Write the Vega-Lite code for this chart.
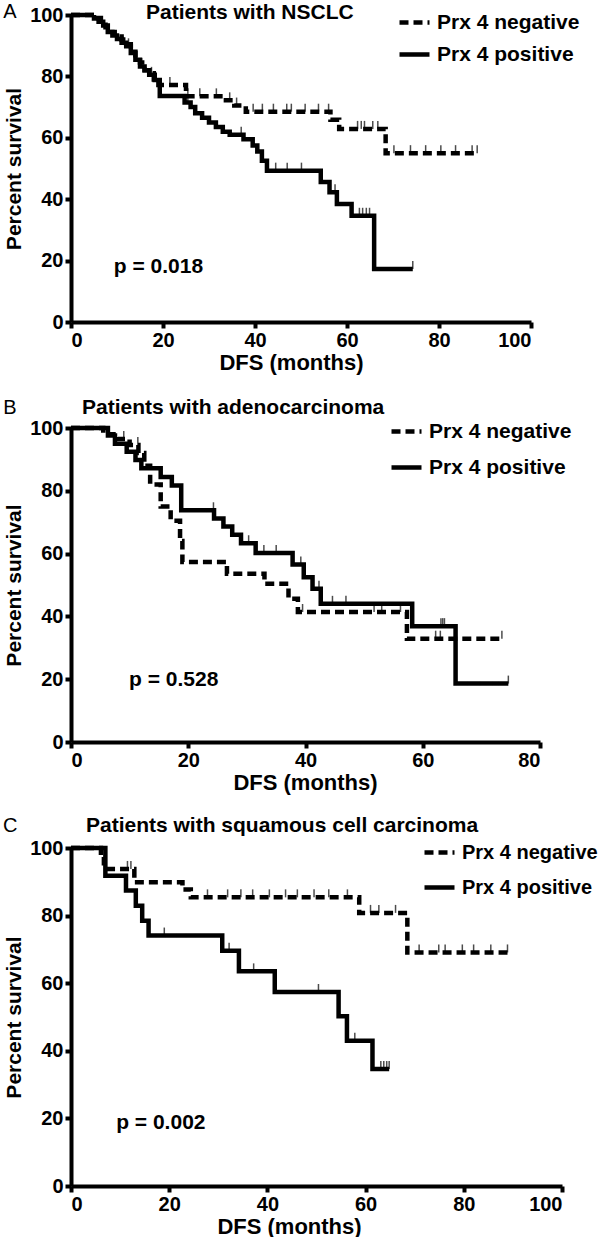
{
  "$schema": "https://vega.github.io/schema/vega-lite/v6.json",
  "padding": {"left": 2, "top": 1, "right": 0, "bottom": 0},
  "background": "white",
  "bounds": "flush",
  "spacing": 106,
  "datasets": {
    "curveA": [
      {"group":"Prx 4 negative","t":0,"s":100},{"group":"Prx 4 negative","t":5,"s":99},{"group":"Prx 4 negative","t":6.5,"s":97.8},{"group":"Prx 4 negative","t":7.5,"s":96},{"group":"Prx 4 negative","t":8.5,"s":94.5},{"group":"Prx 4 negative","t":9.5,"s":93},{"group":"Prx 4 negative","t":11,"s":92},{"group":"Prx 4 negative","t":12,"s":90.5},{"group":"Prx 4 negative","t":13,"s":88},{"group":"Prx 4 negative","t":14,"s":86},{"group":"Prx 4 negative","t":15,"s":84.5},{"group":"Prx 4 negative","t":16,"s":82},{"group":"Prx 4 negative","t":17,"s":81},{"group":"Prx 4 negative","t":18,"s":79},{"group":"Prx 4 negative","t":19,"s":77.2},{"group":"Prx 4 negative","t":25,"s":73.5},{"group":"Prx 4 negative","t":33,"s":72.2},{"group":"Prx 4 negative","t":35.5,"s":70.5},{"group":"Prx 4 negative","t":38,"s":68.5},{"group":"Prx 4 negative","t":56.4,"s":65.9},{"group":"Prx 4 negative","t":58.3,"s":62.9},{"group":"Prx 4 negative","t":68.4,"s":55},{"group":"Prx 4 negative","t":88.3,"s":55},
      {"group":"Prx 4 positive","t":0,"s":100},{"group":"Prx 4 positive","t":5,"s":98.9},{"group":"Prx 4 positive","t":6,"s":97.8},{"group":"Prx 4 positive","t":7,"s":96.6},{"group":"Prx 4 positive","t":8,"s":94.5},{"group":"Prx 4 positive","t":9,"s":93.3},{"group":"Prx 4 positive","t":10,"s":92.2},{"group":"Prx 4 positive","t":11,"s":91},{"group":"Prx 4 positive","t":12,"s":89.8},{"group":"Prx 4 positive","t":13,"s":87.6},{"group":"Prx 4 positive","t":14,"s":85.4},{"group":"Prx 4 positive","t":15,"s":83.2},{"group":"Prx 4 positive","t":16,"s":82},{"group":"Prx 4 positive","t":17,"s":80.5},{"group":"Prx 4 positive","t":18.2,"s":78.8},{"group":"Prx 4 positive","t":19.3,"s":73.6},{"group":"Prx 4 positive","t":24.7,"s":71.5},{"group":"Prx 4 positive","t":26,"s":70},{"group":"Prx 4 positive","t":27,"s":68},{"group":"Prx 4 positive","t":28.5,"s":66.5},{"group":"Prx 4 positive","t":30,"s":65},{"group":"Prx 4 positive","t":31.5,"s":63.5},{"group":"Prx 4 positive","t":33,"s":62},{"group":"Prx 4 positive","t":34.5,"s":61},{"group":"Prx 4 positive","t":37.5,"s":59.5},{"group":"Prx 4 positive","t":39.5,"s":57.5},{"group":"Prx 4 positive","t":40.5,"s":55.5},{"group":"Prx 4 positive","t":41.5,"s":52.5},{"group":"Prx 4 positive","t":42.6,"s":49.3},{"group":"Prx 4 positive","t":54.3,"s":45.6},{"group":"Prx 4 positive","t":56.2,"s":42.3},{"group":"Prx 4 positive","t":57.8,"s":38.4},{"group":"Prx 4 positive","t":61,"s":34.6},{"group":"Prx 4 positive","t":65.9,"s":17.3},{"group":"Prx 4 positive","t":74.3,"s":17.3}
    ],
    "censA": [
      {"t":21.5,"s":77.2},{"t":25.4,"s":73.5},{"t":28,"s":73.5},{"t":31.6,"s":73.5},{"t":34.5,"s":72.2},{"t":36,"s":70.5},{"t":39.6,"s":68.5},{"t":41.6,"s":68.5},{"t":44,"s":68.5},{"t":46.9,"s":68.5},{"t":47.9,"s":68.5},{"t":50.9,"s":68.5},{"t":53.8,"s":68.5},{"t":56,"s":68.5},{"t":62.3,"s":62.9},{"t":63.1,"s":62.9},{"t":63.8,"s":62.9},{"t":65.6,"s":62.9},{"t":66.7,"s":62.9},{"t":70.2,"s":55},{"t":73.8,"s":55},{"t":77.1,"s":55},{"t":80.4,"s":55},{"t":83.6,"s":55},{"t":87.2,"s":55},{"t":88.3,"s":55},
      {"t":8,"s":94.5},{"t":12.5,"s":89.8},{"t":17.5,"s":80.5},{"t":25.4,"s":71.5},{"t":37,"s":61},{"t":44.5,"s":49.3},{"t":47,"s":49.3},{"t":50.1,"s":49.3},{"t":57.4,"s":42.3},{"t":62.7,"s":34.6},{"t":63.4,"s":34.6},{"t":64.2,"s":34.6},{"t":64.9,"s":34.6},{"t":74.3,"s":17.3}
    ],
    "curveB": [
      {"group":"Prx 4 negative","t":0,"s":100},{"group":"Prx 4 negative","t":5.5,"s":98},{"group":"Prx 4 negative","t":8,"s":96.5},{"group":"Prx 4 negative","t":10,"s":94.6},{"group":"Prx 4 negative","t":11.5,"s":92},{"group":"Prx 4 negative","t":12.5,"s":88},{"group":"Prx 4 negative","t":13.5,"s":82},{"group":"Prx 4 negative","t":15.3,"s":75},{"group":"Prx 4 negative","t":17,"s":70.5},{"group":"Prx 4 negative","t":18.6,"s":64},{"group":"Prx 4 negative","t":19,"s":57.3},{"group":"Prx 4 negative","t":26.6,"s":53.6},{"group":"Prx 4 negative","t":33,"s":50.4},{"group":"Prx 4 negative","t":37.1,"s":45.6},{"group":"Prx 4 negative","t":38.7,"s":41.4},{"group":"Prx 4 negative","t":57.3,"s":32.9},{"group":"Prx 4 negative","t":73.5,"s":32.9},
      {"group":"Prx 4 positive","t":0,"s":100},{"group":"Prx 4 positive","t":6.3,"s":97.6},{"group":"Prx 4 positive","t":7.5,"s":95},{"group":"Prx 4 positive","t":9.5,"s":92.4},{"group":"Prx 4 positive","t":11,"s":89.8},{"group":"Prx 4 positive","t":12,"s":87.2},{"group":"Prx 4 positive","t":15.3,"s":84.4},{"group":"Prx 4 positive","t":17.2,"s":81.7},{"group":"Prx 4 positive","t":18.8,"s":73.8},{"group":"Prx 4 positive","t":24.4,"s":71.2},{"group":"Prx 4 positive","t":26,"s":68.6},{"group":"Prx 4 positive","t":27.5,"s":66},{"group":"Prx 4 positive","t":29,"s":63.3},{"group":"Prx 4 positive","t":31.5,"s":60.2},{"group":"Prx 4 positive","t":37.8,"s":56.5},{"group":"Prx 4 positive","t":39.7,"s":52.5},{"group":"Prx 4 positive","t":41.2,"s":48.8},{"group":"Prx 4 positive","t":42.6,"s":44},{"group":"Prx 4 positive","t":58.2,"s":36.9},{"group":"Prx 4 positive","t":65.6,"s":18.6},{"group":"Prx 4 positive","t":74.6,"s":18.6}
    ],
    "censB": [
      {"t":9,"s":96.5},{"t":11.4,"s":94.6},{"t":39.5,"s":41.4},{"t":51.7,"s":41.4},{"t":53,"s":41.4},{"t":56.2,"s":41.4},{"t":62.2,"s":32.9},{"t":63,"s":32.9},{"t":73.5,"s":32.9},
      {"t":24.3,"s":73.8},{"t":30.3,"s":63.3},{"t":32.9,"s":60.2},{"t":35,"s":60.2},{"t":39.2,"s":56.5},{"t":42.3,"s":48.8},{"t":44.6,"s":44},{"t":46.9,"s":44},{"t":63.1,"s":36.9},{"t":63.4,"s":36.9},{"t":63.7,"s":36.9},{"t":74.6,"s":18.6}
    ],
    "curveC": [
      {"group":"Prx 4 negative","t":0,"s":100},{"group":"Prx 4 negative","t":6.1,"s":97.5},{"group":"Prx 4 negative","t":6.7,"s":95.5},{"group":"Prx 4 negative","t":7.3,"s":93.8},{"group":"Prx 4 negative","t":12.9,"s":89.9},{"group":"Prx 4 negative","t":22.7,"s":87.7},{"group":"Prx 4 negative","t":24.4,"s":85.4},{"group":"Prx 4 negative","t":58.7,"s":80.8},{"group":"Prx 4 negative","t":68.5,"s":69.1},{"group":"Prx 4 negative","t":88.9,"s":69.1},
      {"group":"Prx 4 positive","t":0,"s":100},{"group":"Prx 4 positive","t":7,"s":91.8},{"group":"Prx 4 positive","t":11.2,"s":87.4},{"group":"Prx 4 positive","t":13.2,"s":82.9},{"group":"Prx 4 positive","t":14.5,"s":78.5},{"group":"Prx 4 positive","t":15.8,"s":74.1},{"group":"Prx 4 positive","t":30.8,"s":69.6},{"group":"Prx 4 positive","t":34.2,"s":63.5},{"group":"Prx 4 positive","t":41.5,"s":57.4},{"group":"Prx 4 positive","t":54.5,"s":50.2},{"group":"Prx 4 positive","t":56.2,"s":43},{"group":"Prx 4 positive","t":61.4,"s":34.6},{"group":"Prx 4 positive","t":64.8,"s":34.6}
    ],
    "censC": [
      {"t":11.5,"s":93.8},{"t":12.2,"s":93.8},{"t":27.8,"s":85.4},{"t":31.9,"s":85.4},{"t":34.6,"s":85.4},{"t":37,"s":85.4},{"t":40.4,"s":85.4},{"t":43.7,"s":85.4},{"t":46.1,"s":85.4},{"t":49.5,"s":85.4},{"t":52.5,"s":85.4},{"t":56.3,"s":85.4},{"t":61,"s":80.8},{"t":62.7,"s":80.8},{"t":66.1,"s":80.8},{"t":70.9,"s":69.1},{"t":74.9,"s":69.1},{"t":76.2,"s":69.1},{"t":79.7,"s":69.1},{"t":82,"s":69.1},{"t":85.5,"s":69.1},{"t":88.9,"s":69.1},
      {"t":19,"s":74.1},{"t":32.2,"s":69.6},{"t":37.2,"s":63.5},{"t":50.4,"s":57.4},{"t":57.8,"s":43},{"t":63.1,"s":34.6},{"t":63.7,"s":34.6},{"t":64.3,"s":34.6},{"t":64.8,"s":34.6}
    ]
  },
  "vconcat": [
    {
      "width": 460, "height": 307,
      "title": {"text": "Patients with NSCLC", "dx": 75, "offset": -21},
      "layer": [
        {
          "data": {"name": "curveA"},
          "mark": {"type": "line", "interpolate": "step-after", "strokeWidth": 4.5, "color": "black"},
          "encoding": {
            "x": {"field": "t", "type": "quantitative", "title": "DFS (months)", "scale": {"domain": [0, 100], "nice": false}, "axis": {"values": [0, 20, 40, 60, 80, 100], "titleX": 220}},
            "y": {"field": "s", "type": "quantitative", "title": "Percent survival", "scale": {"domain": [0, 100], "nice": false}, "axis": {"values": [0, 20, 40, 60, 80, 100]}},
            "strokeDash": {"field": "group", "type": "nominal", "scale": {"domain": ["Prx 4 negative", "Prx 4 positive"], "range": [[9, 5], [1, 0]]}, "legend": {"title": null, "orient": "none", "legendX": 326, "legendY": -10, "rowPadding": 4}}
          }
        },
        {
          "data": {"name": "censA"},
          "mark": {"type": "tick", "orient": "vertical", "size": 8, "thickness": 1.5, "color": "black", "yOffset": -4},
          "encoding": {
            "x": {"field": "t", "type": "quantitative", "title": "DFS (months)"},
            "y": {"field": "s", "type": "quantitative", "title": "Percent survival"}
          }
        },
        {
          "data": {"values": [{"label": "p = 0.018"}]},
          "mark": {"type": "text", "align": "left", "baseline": "middle", "fontSize": 21, "fontWeight": "bold"},
          "encoding": {"x": {"datum": 9.3}, "y": {"datum": 18}, "text": {"field": "label"}}
        },
        {
          "data": {"values": [{"label": "A"}]},
          "mark": {"type": "text", "align": "center", "baseline": "middle", "fontSize": 20, "fontWeight": "normal"},
          "encoding": {"x": {"datum": -13.3}, "y": {"datum": 101.1}, "text": {"field": "label"}}
        }
      ]
    },
    {
      "width": 469, "height": 314,
      "title": {"text": "Patients with adenocarcinoma", "dx": 11, "offset": -20},
      "layer": [
        {
          "data": {"name": "curveB"},
          "mark": {"type": "line", "interpolate": "step-after", "strokeWidth": 4.5, "color": "black"},
          "encoding": {
            "x": {"field": "t", "type": "quantitative", "title": "DFS (months)", "scale": {"domain": [0, 80], "nice": false}, "axis": {"values": [0, 20, 40, 60, 80], "titleX": 234}},
            "y": {"field": "s", "type": "quantitative", "title": "Percent survival", "scale": {"domain": [0, 100], "nice": false}, "axis": {"values": [0, 20, 40, 60, 80, 100]}},
            "strokeDash": {"field": "group", "type": "nominal", "scale": {"domain": ["Prx 4 negative", "Prx 4 positive"], "range": [[9, 5], [1, 0]]}, "legend": {"title": null, "orient": "none", "legendX": 318, "legendY": -14, "rowPadding": 8}}
          }
        },
        {
          "data": {"name": "censB"},
          "mark": {"type": "tick", "orient": "vertical", "size": 8, "thickness": 1.5, "color": "black", "yOffset": -4},
          "encoding": {
            "x": {"field": "t", "type": "quantitative", "title": "DFS (months)"},
            "y": {"field": "s", "type": "quantitative", "title": "Percent survival"}
          }
        },
        {
          "data": {"values": [{"label": "p = 0.528"}]},
          "mark": {"type": "text", "align": "left", "baseline": "middle", "fontSize": 21, "fontWeight": "bold"},
          "encoding": {"x": {"datum": 9.9}, "y": {"datum": 19.7}, "text": {"field": "label"}}
        },
        {
          "data": {"values": [{"label": "B"}]},
          "mark": {"type": "text", "align": "center", "baseline": "middle", "fontSize": 20, "fontWeight": "normal"},
          "encoding": {"x": {"datum": -10.4}, "y": {"datum": 106.4}, "text": {"field": "label"}}
        }
      ]
    },
    {
      "width": 491, "height": 338,
      "title": {"text": "Patients with squamous cell carcinoma", "dx": 15, "offset": -20},
      "layer": [
        {
          "data": {"name": "curveC"},
          "mark": {"type": "line", "interpolate": "step-after", "strokeWidth": 4.5, "color": "black"},
          "encoding": {
            "x": {"field": "t", "type": "quantitative", "title": "DFS (months)", "scale": {"domain": [0, 100], "nice": false}, "axis": {"values": [0, 20, 40, 60, 80, 100], "titleX": 218}},
            "y": {"field": "s", "type": "quantitative", "title": "Percent survival", "scale": {"domain": [0, 100], "nice": false}, "axis": {"values": [0, 20, 40, 60, 80, 100]}},
            "strokeDash": {"field": "group", "type": "nominal", "scale": {"domain": ["Prx 4 negative", "Prx 4 positive"], "range": [[9, 5], [1, 0]]}, "legend": {"title": null, "orient": "none", "legendX": 351, "legendY": -13, "rowPadding": 7, "labelFontSize": 20}}
          }
        },
        {
          "data": {"name": "censC"},
          "mark": {"type": "tick", "orient": "vertical", "size": 8, "thickness": 1.5, "color": "black", "yOffset": -4},
          "encoding": {
            "x": {"field": "t", "type": "quantitative", "title": "DFS (months)"},
            "y": {"field": "s", "type": "quantitative", "title": "Percent survival"}
          }
        },
        {
          "data": {"values": [{"label": "p = 0.002"}]},
          "mark": {"type": "text", "align": "left", "baseline": "middle", "fontSize": 21, "fontWeight": "bold"},
          "encoding": {"x": {"datum": 9.2}, "y": {"datum": 18.6}, "text": {"field": "label"}}
        },
        {
          "data": {"values": [{"label": "C"}]},
          "mark": {"type": "text", "align": "center", "baseline": "middle", "fontSize": 20, "fontWeight": "normal"},
          "encoding": {"x": {"datum": -12.4}, "y": {"datum": 106.5}, "text": {"field": "label"}}
        }
      ]
    }
  ],
  "resolve": {
    "scale": {"x": "independent", "y": "independent", "strokeDash": "independent"},
    "legend": {"strokeDash": "independent"}
  },
  "config": {
    "view": {"stroke": null},
    "font": "Liberation Sans",
    "text": {"font": "Liberation Sans", "color": "black"},
    "title": {"anchor": "start", "frame": "group", "font": "Liberation Sans", "fontSize": 21, "fontWeight": "bold", "color": "black", "baseline": "alphabetic"},
    "axis": {"grid": false, "domainColor": "black", "domainWidth": 4, "tickColor": "black", "tickWidth": 4, "tickSize": 6, "labelFont": "Liberation Sans", "labelFontWeight": "bold", "labelFontSize": 20, "labelColor": "black", "labelPadding": 2, "titleFont": "Liberation Sans", "titleFontWeight": "bold", "titleFontSize": 22, "titleColor": "black"},
    "axisY": {"titleFontSize": 21, "titlePadding": 5},
    "axisX": {"titlePadding": 2},
    "legend": {"symbolType": "stroke", "symbolSize": 900, "symbolStrokeWidth": 4.5, "symbolStrokeColor": "black", "labelFont": "Liberation Sans", "labelFontWeight": "bold", "labelFontSize": 21, "labelColor": "black", "labelOffset": 5}
  }
}
